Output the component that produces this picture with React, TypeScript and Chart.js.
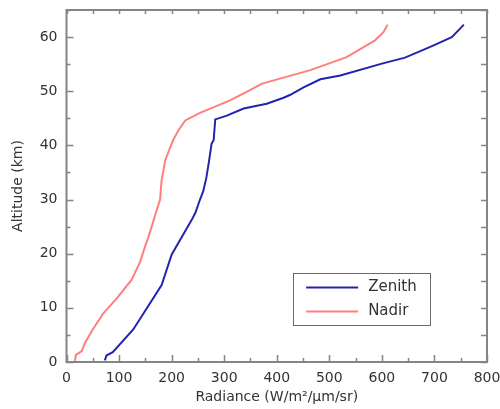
import React, { useEffect, useRef } from "react";
import { Chart, registerables } from "chart.js";

Chart.register(...registerables);

const zenithRadiance = [73, 76, 88, 127, 181, 200, 210, 238, 245, 254, 260, 266, 271, 276, 280, 283, 305, 337, 381, 413, 425, 451, 483, 521, 600, 644, 692, 733, 756];
const zenithAltitude = [0.3, 1.2, 1.8, 6, 14.2, 19.8, 21.5, 26.2, 27.5, 30, 31.5, 34, 37, 40.3, 41, 44.8, 45.5, 46.8, 47.7, 48.8, 49.3, 50.7, 52.2, 52.9, 55.1, 56.2, 58.2, 60, 62.3];
const nadirRadiance = [16, 18, 29, 35, 50, 70, 96, 124, 140, 150, 156, 170, 178, 181, 188, 203, 213, 226, 254, 311, 349, 372, 464, 533, 587, 603, 611];
const nadirAltitude = [0.2, 1.3, 2, 3.5, 6, 9, 11.8, 15.2, 18.5, 21.5, 23.1, 27.5, 30, 33.6, 37.3, 41, 42.8, 44.6, 46, 48.3, 50.2, 51.4, 53.9, 56.3, 59.4, 60.9, 62.3];
const seriesNames = ["Zenith", "Nadir"];
const seriesColors = ["#2323b0", "#ff7f7f"];
const xTicks = [0, 100, 200, 300, 400, 500, 600, 700, 800];
const yTicks = [0, 10, 20, 30, 40, 50, 60];
const xTitle = "Radiance (W/m²/µm/sr)";
const yTitle = "Altitude (km)";

const FONT = "'DejaVu Sans', sans-serif";
const TEXT = "#333333";
const FRAME = "#858585";

const framePlugin = {
  id: "framePlugin",
  afterDraw(chart: any) {
    const { ctx, chartArea } = chart;
    const xs = chart.scales.x;
    const ys = chart.scales.y;
    const { left, right, top, bottom } = chartArea;
    ctx.save();
    ctx.strokeStyle = FRAME;
    ctx.lineWidth = 1.5;
    ctx.beginPath();
    for (let v = 0; v <= 800; v += 50) {
      const px = Math.round(xs.getPixelForValue(v)) + 0.5;
      const major = v % 100 === 0;
      ctx.moveTo(px, bottom);
      ctx.lineTo(px, bottom - (major ? 7 : 4));
      ctx.moveTo(px, top);
      ctx.lineTo(px, top + 4);
    }
    for (let v = 0; v <= 65; v += 5) {
      const py = Math.round(ys.getPixelForValue(v)) + 0.5;
      const major = v % 10 === 0;
      ctx.moveTo(left, py);
      ctx.lineTo(left + (major ? 7 : 4), py);
      ctx.moveTo(right, py);
      ctx.lineTo(right - 6, py);
    }
    ctx.stroke();
    ctx.lineWidth = 2;
    ctx.strokeRect(left, top, right - left, bottom - top);

    // legend
    const w = right - left;
    const h = bottom - top;
    const bx = left + w * 0.539;
    const by = top + h * 0.747;
    const bw = 137;
    const bh = 52;
    ctx.fillStyle = "#ffffff";
    ctx.fillRect(bx, by, bw, bh);
    ctx.strokeStyle = "#6a6a6a";
    ctx.lineWidth = 1;
    ctx.strokeRect(Math.round(bx) + 0.5, Math.round(by) + 0.5, bw, bh);
    ctx.font = "15px " + FONT;
    ctx.textBaseline = "middle";
    ctx.textAlign = "left";
    seriesNames.forEach((name, i) => {
      const ly = by + 14.5 + i * 24;
      ctx.strokeStyle = seriesColors[i];
      ctx.lineWidth = 2;
      ctx.beginPath();
      ctx.moveTo(bx + 13, ly);
      ctx.lineTo(bx + 65, ly);
      ctx.stroke();
      ctx.fillStyle = TEXT;
      ctx.fillText(name, bx + 75, ly);
    });
    ctx.restore();
  },
};

export default function App() {
  const ref = useRef<HTMLCanvasElement>(null);
  useEffect(() => {
    document.body.style.margin = "0";
    const zen = zenithRadiance.map((x, i) => ({ x, y: zenithAltitude[i] }));
    const nad = nadirRadiance.map((x, i) => ({ x, y: nadirAltitude[i] }));
    const chart = new Chart(ref.current!, {
      type: "line",
      data: {
        datasets: [
          { label: seriesNames[0], data: zen, borderColor: seriesColors[0], borderWidth: 2, pointRadius: 0, tension: 0, fill: false },
          { label: seriesNames[1], data: nad, borderColor: seriesColors[1], borderWidth: 2, pointRadius: 0, tension: 0, fill: false },
        ],
      },
      options: {
        animation: false,
        responsive: false,
        devicePixelRatio: 1,
        layout: { padding: { top: 10, right: 13, left: 0, bottom: 0 } },
        plugins: { legend: { display: false }, tooltip: { enabled: false } },
        scales: {
          x: {
            type: "linear",
            min: 0,
            max: 800,
            afterBuildTicks: (s: any) => { s.ticks = xTicks.map((v) => ({ value: v })); },
            afterFit: (s: any) => { s.height = 47; s.paddingLeft = 0; s.paddingRight = 0; },
            grid: { display: false, drawTicks: false },
            border: { display: false },
            ticks: { color: TEXT, font: { family: FONT, size: 14 }, padding: 8, maxRotation: 0 },
            title: { display: true, text: xTitle, color: TEXT, font: { family: FONT, size: 14 }, padding: { top: 0, bottom: 3 } },
          },
          y: {
            type: "linear",
            min: 0,
            max: 65,
            afterBuildTicks: (s: any) => { s.ticks = yTicks.map((v) => ({ value: v })); },
            afterFit: (s: any) => { s.width = 66.5; s.paddingTop = 0; s.paddingBottom = 0; },
            grid: { display: false, drawTicks: false },
            border: { display: false },
            ticks: { color: TEXT, font: { family: FONT, size: 14 }, padding: 9 },
            title: { display: true, text: yTitle, color: TEXT, font: { family: FONT, size: 14 }, padding: { top: 10, bottom: 0 } },
          },
        },
      },
      plugins: [framePlugin],
    });
    return () => chart.destroy();
  }, []);
  return <canvas ref={ref} width={500} height={409} style={{ display: "block" }} />;
}
